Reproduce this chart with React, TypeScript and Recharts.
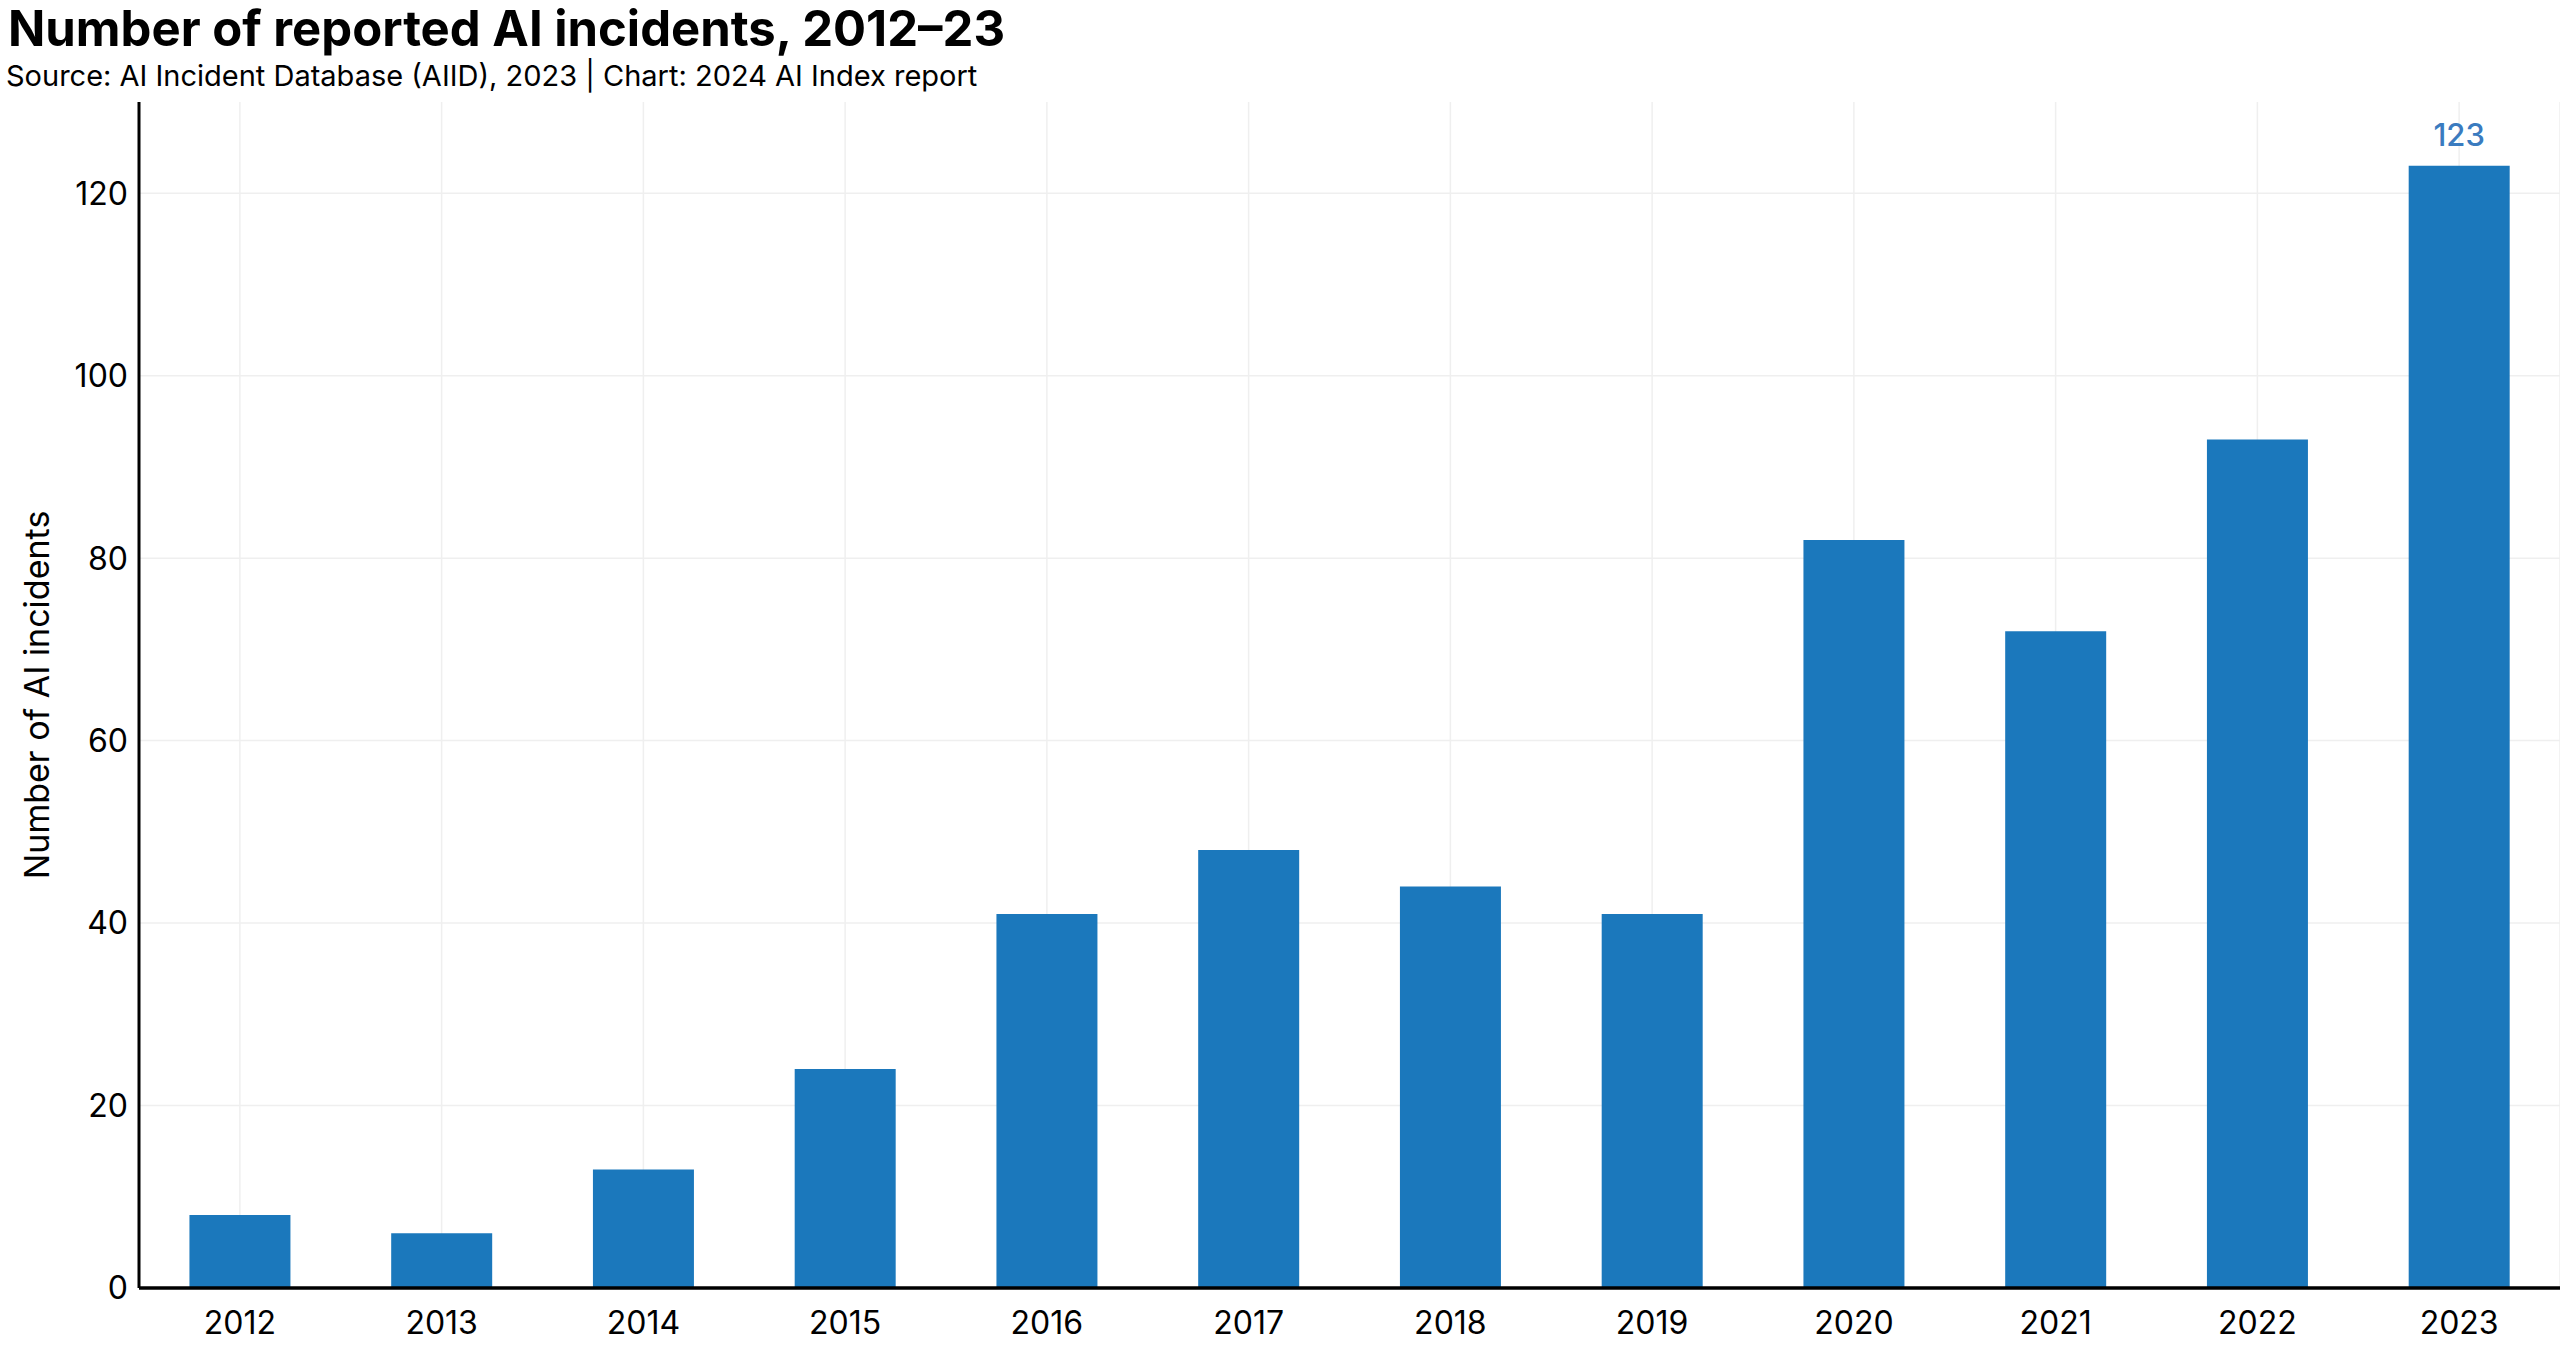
import React from "react";
import { BarChart, Bar, XAxis, YAxis, CartesianGrid, LabelList } from "recharts";

const years = ["2012", "2013", "2014", "2015", "2016", "2017", "2018", "2019", "2020", "2021", "2022", "2023"];
const incidents = [8, 6, 13, 24, 41, 48, 44, 41, 82, 72, 93, 123];
const yTicks = [0, 20, 40, 60, 80, 100, 120];

const data = years.map((year, i) => ({ year, incidents: incidents[i] }));

const FONT = "Inter, 'Noto Sans', sans-serif";

// only the last bar carries a value label
const LastLabel = (props: any) => {
  const { x, y, width, value, index } = props;
  if (index !== years.length - 1) return null;
  return (
    <text x={x + width / 2} y={y - 20} textAnchor="middle" fill="#3a7bbf" fontSize={31} fontFamily={FONT} fontWeight={500}>
      {value}
    </text>
  );
};

export default function App() {
  return (
    <div style={{ position: "absolute", left: 0, top: 0, width: 2560, height: 1361, background: "#fff", fontFamily: FONT }}>
      <div style={{ position: "absolute", left: 8, top: -1, fontSize: 49, fontWeight: 700, color: "#000" }}>
        Number of reported AI incidents, 2012–23
      </div>
      <div style={{ position: "absolute", left: 6, top: 58, fontSize: 29, color: "#000" }}>
        Source: AI Incident Database (AIID), 2023 | Chart: 2024 AI Index report
      </div>
      <BarChart
        width={2560}
        height={1361}
        data={data}
        margin={{ top: 102, right: 0, bottom: 0, left: 0 }}
        barCategoryGap="25%"
      >
        <CartesianGrid stroke="#efefef" strokeWidth={1.5} horizontalValues={yTicks} />
        <XAxis
          dataKey="year"
          height={73}
          tickLine={false}
          axisLine={{ stroke: "#000", strokeWidth: 3.5 }}
          tick={{ fill: "#000", fontSize: 32, fontFamily: FONT }}
          tickMargin={17}
        />
        <YAxis
          width={139}
          domain={[0, 130]}
          ticks={yTicks}
          tickLine={false}
          axisLine={{ stroke: "#000", strokeWidth: 3 }}
          tick={{ fill: "#000", fontSize: 32, fontFamily: FONT }}
          tickMargin={5}
          label={{
            value: "Number of AI incidents",
            angle: -90,
            position: "insideLeft",
            dx: 32,
            fill: "#000",
            fontSize: 34,
            fontFamily: FONT,
            style: { textAnchor: "middle" },
          }}
        />
        <Bar dataKey="incidents" fill="#1b78bc" isAnimationActive={false}>
          <LabelList dataKey="incidents" content={LastLabel} />
        </Bar>
      </BarChart>
    </div>
  );
}
